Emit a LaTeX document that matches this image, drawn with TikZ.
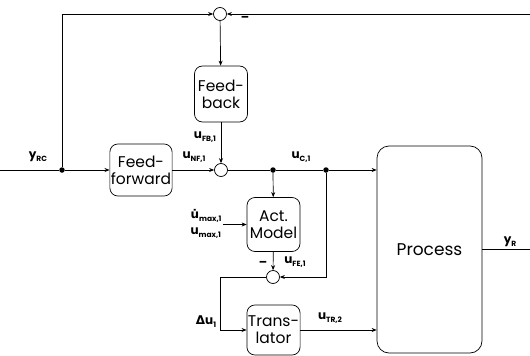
\documentclass[tikz,border=0pt]{standalone}
\usepackage{fontspec}
\setmainfont{Poppins}
\newfontfamily\symfont{DejaVu Sans}
\usetikzlibrary{arrows.meta}

\newcommand{\sig}[2]{\textbf{#1}\raisebox{-0.45ex}{\fontsize{7.5}{8}\selectfont\bfseries #2}}

\tikzset{
  blk/.style={draw,rounded corners=8pt,align=center,inner sep=1pt,
    font=\fontsize{15.5}{17}\selectfont,minimum width=53pt},
  sumpt/.style={draw,circle,minimum size=13pt,inner sep=0pt},
  dotpt/.style={fill,circle,minimum size=5.5pt,inner sep=0pt},
  lab/.style={font=\fontsize{12}{13}\selectfont,inner sep=1pt},
  >={Stealth[length=5pt,width=4pt]}
}

\begin{document}
\begin{tikzpicture}[x=1pt,y=-1pt,every path/.style={line width=0.7pt}]
  \useasboundingbox (0,0) rectangle (530,356);

  % blocks
  \node[blk,minimum height=56pt] (fb) at (221,94) {Feed-\\back};
  \node[blk,minimum height=52pt] (ff) at (141,170) {Feed-\\forward};
  \node[blk,minimum height=54pt] (act) at (273.5,224.5) {Act.\\Model};
  \node[blk,minimum height=50pt] (tr) at (273.5,330) {Trans-\\lator};
  \node[blk,rounded corners=12pt,minimum width=105pt,minimum height=207pt,
    font=\fontsize{17}{18}\selectfont] (proc) at (429.5,249.5) {Process};

  % summing points and branch dots
  \node[sumpt] (sumtop) at (220,14) {};
  \node[sumpt] (summain) at (221,170) {};
  \node[sumpt] (sumfe) at (273,277) {};
  \node[dotpt] (d1) at (62,170) {};
  \node[dotpt] (d2) at (273,170) {};
  \node[dotpt] (d3) at (326,170) {};

  % free ends
  \coordinate (yin) at (0,170);
  \coordinate (ret) at (530,14);
  \coordinate (yout) at (530,249.5);
  \coordinate (bend) at (220,277);

  % signal labels
  \node[lab] (lyrc) at (38,157) {\sig{y}{RC}};
  \node[lab] (lunf) at (194,157) {\sig{u}{NF,1}};
  \node[lab] (lufb) at (205,137) {\sig{u}{FB,1}};
  \node[lab] (luc) at (301,157) {\sig{u}{C,1}};
  \node[lab,align=left] (umax) at (206,224) {\sig{{\symfont u\char"0307}}{max,1}\\[3pt]\sig{u}{max,1}};
  \node[lab] (lufe) at (295,262) {\sig{u}{FE,1}};
  \node[lab] (ldu) at (206,322) {{\symfont\bfseries Δ}\sig{u}{1}};
  \node[lab] (lutr) at (330,318) {\sig{u}{TR,2}};
  \node[lab] (lyr) at (510,242) {\sig{y}{R}};
  \node[lab] (mtop) at (245,19) {\textbf{--}};
  \node[lab] (mfe) at (263,264) {\textbf{--}};

  % connections
  \draw (yin) -- (d1);
  \draw[->] (d1) -- (ff);
  \draw[->] (ff) -- (summain);
  \draw (summain) -- (d2) -- (d3);
  \draw[->] (d3) -- (d3 -| proc.west);
  \draw[->] (d1) |- (sumtop);
  \draw[->] (ret) -- (sumtop);
  \draw[->] (sumtop) -- (fb);
  \draw[->] (fb) -- (summain);
  \draw[->] (d2) -- (act);
  \draw[->] (umax.east |- act.west) -- (act.west);
  \draw[->] (act) -- (sumfe);
  \draw[->] (d3) |- (sumfe);
  \draw (sumfe) -- (bend);
  \draw[->] (bend) |- (tr.west);
  \draw[->] (tr.east) -- (tr.east -| proc.west);
  \draw (proc.east) -- (yout);
\end{tikzpicture}
\end{document}
